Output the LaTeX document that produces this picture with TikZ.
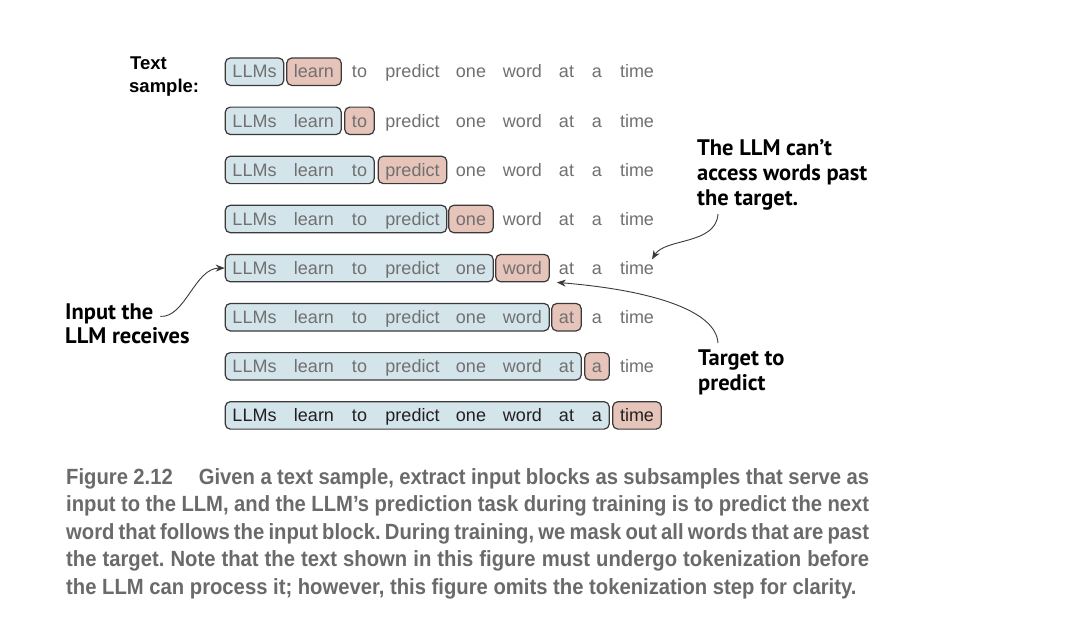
\documentclass[tikz,border=0pt]{standalone}
\usepackage{fontspec}
\setmainfont{Liberation Sans}
\newfontfamily\notefont{PT Sans}
\newfontfamily\capfont[FakeStretch=0.92]{Liberation Sans}
\usetikzlibrary{fit,backgrounds,calc,arrows.meta}
\definecolor{wordgray}{HTML}{707070}
\definecolor{worddark}{HTML}{202020}
\definecolor{inblue}{HTML}{D4E4EB}
\definecolor{tgpink}{HTML}{E7C4BA}
\definecolor{boxline}{HTML}{3A3A3A}
\definecolor{capgray}{HTML}{6A6A6A}
\frenchspacing
\begin{document}
\begin{tikzpicture}[x=1pt,y=-1pt,
  wordnode/.style={font=\fontsize{18}{20}\selectfont, inner xsep=7pt, inner ysep=0pt,
    minimum height=27pt, text height=13.5pt, text depth=1pt},
  inbox/.style={draw=boxline, line width=1.2pt, fill=inblue, rounded corners=5pt, inner sep=0pt},
  tgbox/.style={draw=boxline, line width=1.2pt, fill=tgpink, rounded corners=5pt, inner sep=0pt},
  headlabel/.style={font=\fontsize{18.5}{21}\selectfont\bfseries, text=black, inner sep=0pt, anchor=base west},
  note/.style={font=\notefont\fontsize{22.5}{25}\selectfont\bfseries, text=black, inner sep=0pt, anchor=base west},
  capline/.style={font=\capfont\fontsize{22}{25}\selectfont\bfseries, text=capgray, inner sep=0pt, anchor=base west},
  pointer/.style={draw=boxline, line width=0.9pt, -{Stealth[length=9pt,width=7pt]}}]
\begin{scope}[on background layer]
  \fill[white] (0,0) rectangle (1072,640);
\end{scope}
\useasboundingbox (0,0) rectangle (1072,640);

% sliding input blocks: blue = input, pink = target
\foreach \r in {1,...,8}{
  \pgfmathsetmacro\yy{71.7+49.1*(\r-1)}
  \ifnum\r=8 \def\tc{worddark}\else\def\tc{wordgray}\fi
  \foreach \w/\xx [count=\k] in {LLMs/254.5,learn/314,to/359.5,predict/412.5,one/471,word/522.5,at/566.5,a/597,time/637}
    \node[wordnode,text=\tc] (r\r-\k) at (\xx,\yy) {\w};
  \pgfmathtruncatemacro\tk{\r+1}
  \begin{scope}[on background layer]
    \node[inbox,fit=(r\r-1)(r\r-\r)] (in\r) {};
    \node[tgbox,fit=(r\r-\tk)] (tg\r) {};
  \end{scope}
}

% labels
\node[headlabel] (ts1) at (130,69) {Text};
\node[headlabel] (ts2) at (129,92) {sample:};

\node[note] (inp1) at (65,319) {Input the};
\node[note] (inp2) at (65,343) {LLM receives};

\node[note] (can1) at (697,155) {The LLM can’t};
\node[note] (can2) at (697,180) {access words past};
\node[note] (can3) at (697,205) {the target.};

\node[note] (tgt1) at (698,365) {Target to};
\node[note] (tgt2) at (698,390) {predict};

% pointers
\coordinate (inpS) at ($(inp1.east)+(7,3)$);
\draw[pointer] (inpS) .. controls (185,318) and (195,268) .. (in5.west);

\coordinate (canS) at ($(can3.base west)+(21,9)$);
\coordinate (canE) at ($(r5-9.north)+(15,5)$);
\draw[pointer] (canS) .. controls (716,245) and (665,238) .. (canE);

\coordinate (tgtS) at ($(tgt1.base west)+(20,-22)$);
\coordinate (tgtE) at ($(tg5.south east)+(7,0)$);
\draw[pointer] (tgtS) .. controls (716,310) and (650,290) .. (tgtE);

% caption
\node[capline] (cap1) at (66,484) {\makebox[803pt][s]{Figure 2.12\hspace{26pt}Given a text sample, extract input blocks as subsamples that serve as}};
\node[capline] (cap2) at (66,511.5) {\makebox[803pt][s]{input to the LLM, and the LLM’s prediction task during training is to predict the next}};
\node[capline] (cap3) at (66,539) {\makebox[803pt][s]{word that follows the input block. During training, we mask out all words that are past}};
\node[capline] (cap4) at (66,566.5) {\makebox[803pt][s]{the target. Note that the text shown in this figure must undergo tokenization before}};
\node[capline] (cap5) at (66,594) {the LLM can process it; however, this figure omits the tokenization step for clarity.};
\end{tikzpicture}
\end{document}
